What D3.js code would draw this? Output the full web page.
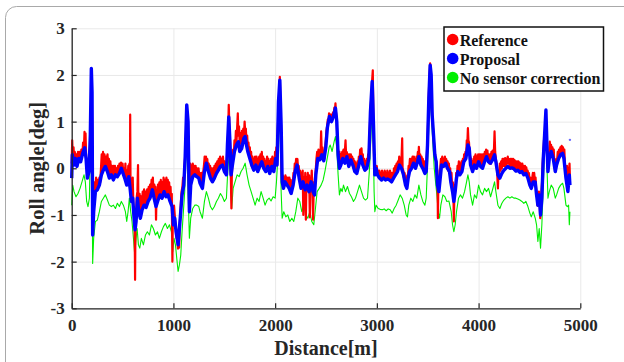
<!DOCTYPE html>
<html>
<head>
<meta charset="utf-8">
<script src="https://cdn.jsdelivr.net/npm/d3@7"></script>
<style>
  body { margin: 0; background: #fff; }
  svg { display: block; }
</style>
</head>
<body>
<div id="chart"></div>
<script>
// axis ticks
const xTicks = [0, 1000, 2000, 3000, 4000, 5000];
const yTicks = [-3, -2, -1, 0, 1, 2, 3];
const seriesNames = ['Reference', 'Proposal', 'No sensor correction'];

// [distance m, roll deg]
const proposal = [
  [0,-0.21],[6,0.29],[23,0.07],[36,0.21],[52,0.04],[69,0.21],[88,0.14],[108,0.32],[128,0.44],[141,0.21],
  [154,-0.21],[170,-0.07],[183,0.71],[193,2.14],[200,1.64],[206,-1.43],[216,-0.93],[233,-0.5],[252,-0.46],[272,-0.36],
  [292,-0.14],[311,-0.04],[331,0.04],[351,-0.07],[370,-0.21],[390,-0.14],[410,-0.25],[430,-0.14],[449,-0.18],[469,-0.11],
  [488,0],[505,-0.11],[521,-0.21],[541,-0.36],[561,-0.18],[574,-0.43],[587,-0.71],[600,-0.64],[613,-1.07],[623,-1.32],
  [633,-1.14],[646,-0.64],[659,-0.93],[675,-1.07],[692,-0.89],[711,-0.79],[731,-0.84],[751,-0.71],[770,-0.64],[793,-0.46],
  [810,-0.64],[829,-0.82],[849,-0.68],[869,-0.57],[888,-0.64],[908,-0.5],[928,-0.61],[947,-0.57],[967,-0.71],[987,-0.82],
  [1000,-1.21],[1013,-1.07],[1026,-1.36],[1046,-1.64],[1059,-1.29],[1072,-0.93],[1085,-0.57],[1102,-0.36],[1115,0.21],[1131,1.36],
  [1144,1.0],[1157,-0.93],[1170,-0.36],[1190,-0.18],[1210,-0.14],[1229,-0.18],[1249,-0.21],[1262,-0.32],[1285,-0.43],[1305,-0.07],
  [1324,0.11],[1344,-0.07],[1364,-0.21],[1383,-0.29],[1403,-0.21],[1423,-0.11],[1442,-0.04],[1462,0.04],[1482,0.07],[1501,-0.07],
  [1521,-0.14],[1531,0.5],[1544,1.1],[1554,0.64],[1567,-0.14],[1580,0.07],[1600,0.36],[1619,0.5],[1639,0.57],[1652,0.36],
  [1672,0.43],[1692,0.64],[1705,0.68],[1718,0.5],[1731,0.36],[1751,0.21],[1770,0.07],[1790,-0.04],[1810,0.07],[1829,-0.07],
  [1849,0.04],[1869,0.14],[1888,0],[1908,-0.07],[1928,0.04],[1947,-0.11],[1967,0.04],[1987,-0.07],[2006,0.21],[2019,0.07],
  [2033,1.43],[2046,1.89],[2059,0.93],[2069,-0.29],[2082,-0.43],[2098,-0.29],[2118,-0.36],[2138,-0.43],[2157,-0.54],[2177,-0.36],
  [2197,-0.07],[2216,0.07],[2236,-0.21],[2255,-0.43],[2275,-0.29],[2295,-0.46],[2314,-0.36],[2334,-0.5],[2354,-0.29],[2373,-0.5],
  [2387,-0.57],[2400,-0.14],[2419,0.21],[2439,0.18],[2459,0.29],[2478,0.16],[2498,0.45],[2514,0.88],[2534,1.11],[2554,1.0],
  [2573,1.11],[2593,1.29],[2606,1.0],[2619,0.29],[2632,0],[2646,0.07],[2665,0.21],[2685,0.11],[2705,0.25],[2724,0.04],
  [2744,0.18],[2764,0.07],[2783,-0.07],[2803,-0.11],[2823,0.07],[2842,0.25],[2862,0.07],[2882,-0.04],[2901,0],[2921,0.21],
  [2937,1.21],[2954,1.86],[2967,0.93],[2980,-0.14],[2993,0],[3006,-0.14],[3026,-0.21],[3046,-0.25],[3065,-0.21],[3085,-0.25],
  [3105,-0.23],[3124,-0.25],[3144,-0.29],[3164,-0.21],[3183,-0.14],[3203,-0.07],[3223,0.07],[3242,0],[3262,-0.14],[3282,-0.36],
  [3295,-0.43],[3308,-0.21],[3321,-0.07],[3341,0],[3360,0.11],[3380,0],[3400,0.14],[3413,0.25],[3433,0.07],[3452,0],
  [3472,-0.11],[3485,-0.07],[3498,0.5],[3511,1.5],[3524,2.21],[3534,2.0],[3544,1.14],[3557,0.71],[3570,0.29],[3583,0.14],
  [3596,-0.36],[3610,-0.5],[3623,-0.21],[3636,0.07],[3655,0.04],[3675,0.11],[3695,0],[3714,-0.07],[3727,-0.29],[3744,-0.5],
  [3757,-0.71],[3770,-0.5],[3783,-0.21],[3796,-0.07],[3816,-0.14],[3836,-0.07],[3855,0.14],[3875,0.21],[3895,0.5],[3908,0.43],
  [3921,0.07],[3941,-0.07],[3960,0.07],[3980,0],[4000,0.14],[4019,0.04],[4039,0],[4059,0.14],[4078,0.25],[4098,0.14],
  [4118,0.11],[4137,0.18],[4157,0.29],[4170,0.14],[4190,-0.14],[4209,-0.21],[4229,-0.11],[4249,-0.04],[4268,0],[4288,0.04],
  [4308,0],[4327,0.01],[4347,-0.01],[4367,-0.06],[4386,-0.04],[4406,-0.09],[4426,-0.07],[4445,-0.14],[4465,-0.11],[4485,-0.21],
  [4504,-0.36],[4518,-0.43],[4537,-0.29],[4557,-0.29],[4570,-0.57],[4583,-0.79],[4596,-0.57],[4609,-1.0],[4622,-0.64],[4636,0.21],
  [4649,0.71],[4662,1.25],[4672,0.5],[4682,-0.07],[4695,0.21],[4714,0.36],[4734,0.21],[4754,-0.07],[4767,0.07],[4787,0.21],
  [4806,0.29],[4826,0.32],[4839,0.21],[4859,-0.21],[4878,-0.5],[4892,-0.14],[4898,-0.36]
];
const proposalStray = [[4898, 0.61]];

const reference = [
  [0,0.1],[5,0.6],[12,0.15],[18,0.45],[25,0.1],[30,0.35],[40,0.2],[46,0.3],[55,0.1],[62,0.35],[70,0.2],[78,0.35],[88,0.2],[95,0.4],
  [105,0.3],[112,0.55],[120,0.4],[126,0.78],[132,0.45],[136,0.75],[142,0.25],[148,0.1],[155,-0.15],[162,0.1],[170,0],[177,0.3],[183,0.6],
  [190,1.2],[197,1.54],[203,0.5],[207,-1.4],[212,-0.9],[218,-0.6],[225,-0.3],[233,-0.45],[240,-0.2],[248,-0.4],[256,-0.25],[264,-0.4],
  [272,-0.2],[280,-0.3],[288,0.0],[295,0.3],[302,-0.05],[308,0.35],[316,0.0],[322,0.3],[330,0.05],[338,0.25],[345,-0.05],[352,0.3],
  [360,-0.1],[366,0.2],[374,-0.15],[380,0.15],[388,-0.1],[395,0.05],[402,-0.2],[410,0.05],[418,-0.15],[425,0.05],[432,-0.1],[440,0.0],
  [448,-0.15],[455,0.05],[462,-0.1],[470,0.1],[478,-0.05],[485,0.12],[492,0.0],[500,0.1],[508,-0.1],[515,0.0],[522,-0.2],[528,0.1],
  [535,-0.3],[542,-0.05],[550,-0.25],[556,0.05],[562,-0.15],[568,0.1],[573,-0.3],[575,1.15],[578,-0.2],[582,-0.6],[588,-0.3],[594,-0.65],
  [600,-0.2],[606,-0.8],[613,-1.0],[618,-0.9],[623,-2.39],[627,-1.1],[633,-1.0],[640,-0.6],[646,-0.5],[652,0.07],[656,-0.8],[662,-0.9],
  [668,-0.55],[675,-1.0],[682,-0.6],[690,-0.85],[698,-0.5],[705,-0.75],[712,-0.45],[720,-0.8],[727,-0.5],[735,-0.8],[742,-0.45],[750,-0.7],
  [757,-0.4],[764,-0.6],[771,-0.35],[778,-0.55],[785,-0.25],[792,-0.45],[798,-0.2],[805,-0.6],[812,-0.35],[818,-0.7],[824,-0.4],[829,-1.1],
  [835,-0.5],[842,-0.7],[848,-0.35],[855,-0.65],[862,-0.3],[869,-0.55],[876,-0.25],[883,-0.6],[890,-0.3],[897,-0.55],[903,-0.2],[910,-0.5],
  [917,-0.25],[924,-0.55],[931,-0.2],[938,-0.55],[945,-0.25],[952,-0.55],[958,-0.3],[965,-0.65],[972,-0.4],[978,-0.75],[984,-0.55],[990,-2.0],
  [994,-1.0],[1000,-1.1],[1006,-0.8],[1013,-1.0],[1019,-1.2],[1026,-1.3],[1032,-1.5],[1038,-1.4],[1044,-1.72],[1050,-1.5],[1056,-1.7],[1062,-1.2],
  [1068,-1.0],[1074,-0.7],[1080,-0.5],[1088,-0.4],[1095,-0.2],[1102,-0.3],[1108,0.0],[1115,0.25],[1124,0.8],[1131,1.1],[1137,1.18],[1142,1.0],
  [1148,0.3],[1155,-0.85],[1160,-0.5],[1165,0.1],[1170,-0.3],[1177,0.05],[1184,-0.15],[1190,0.1],[1197,-0.1],[1204,0.05],[1211,-0.1],[1218,0.05],
  [1225,-0.12],[1232,0.0],[1240,-0.15],[1247,0.0],[1254,-0.2],[1262,-0.1],[1270,-0.3],[1277,-0.1],[1285,-0.4],[1292,-0.1],[1300,0.05],[1307,0.25],
  [1314,0.05],[1320,0.25],[1326,0.1],[1333,0.2],[1340,-0.05],[1347,0.1],[1354,-0.15],[1361,0.05],[1368,-0.2],[1375,0.0],[1382,-0.25],[1389,0.0],
  [1396,-0.2],[1403,0.05],[1410,-0.15],[1417,0.1],[1424,-0.05],[1431,0.15],[1438,0.0],[1445,0.2],[1452,0.0],[1459,0.25],[1466,0.05],[1473,0.2],
  [1480,0.1],[1487,0.25],[1494,0.0],[1501,0.15],[1508,-0.05],[1515,0.1],[1522,-0.1],[1530,0.5],[1537,0.7],[1544,1.36],[1550,0.9],[1556,0.6],
  [1562,0.2],[1567,-0.5],[1570,-0.86],[1574,-0.2],[1580,0.2],[1587,0.4],[1594,0.3],[1600,0.6],[1607,0.45],[1614,0.8],[1620,0.55],[1627,0.9],
  [1633,1.18],[1638,0.7],[1645,0.9],[1652,0.5],[1659,0.75],[1666,0.55],[1673,0.8],[1680,0.6],[1687,0.85],[1693,0.7],[1700,1.0],[1706,0.75],
  [1712,0.85],[1718,0.55],[1725,0.7],[1731,0.45],[1738,0.55],[1745,0.3],[1751,0.45],[1758,0.15],[1764,0.35],[1770,0.05],[1777,0.25],[1784,0.0],
  [1790,0.2],[1797,0.0],[1803,0.25],[1810,0.05],[1817,0.25],[1823,-0.05],[1830,0.2],[1836,0.0],[1843,0.25],[1850,0.05],[1856,0.3],[1863,0.1],
  [1869,0.35],[1876,0.05],[1882,0.25],[1889,0.0],[1895,0.2],[1902,-0.05],[1908,0.15],[1915,0.0],[1921,0.25],[1928,0.05],[1934,0.2],[1941,-0.05],
  [1947,0.15],[1954,-0.05],[1960,0.2],[1967,0.05],[1973,0.25],[1980,0.0],[1986,0.2],[1993,0.0],[1999,0.35],[2006,0.25],[2012,0.45],[2019,0.1],
  [2026,0.8],[2033,1.3],[2040,1.6],[2046,1.96],[2052,1.3],[2058,0.8],[2063,0.0],[2069,-0.3],[2075,-0.15],[2082,-0.4],[2088,-0.2],[2095,-0.3],
  [2101,-0.15],[2108,-0.3],[2114,-0.2],[2121,-0.3],[2127,-0.2],[2134,-0.35],[2140,-0.2],[2147,-0.45],[2153,-0.25],[2160,-0.5],[2166,-0.3],[2173,-0.35],
  [2180,-0.1],[2186,-0.2],[2193,0.1],[2199,0.0],[2206,0.2],[2212,0.1],[2219,0.2],[2225,0.0],[2232,0.05],[2238,-0.2],[2245,-0.05],[2251,-0.4],
  [2258,-0.1],[2264,-0.35],[2271,-0.05],[2277,-1.0],[2283,-0.2],[2290,-0.45],[2296,-0.1],[2302,-1.1],[2308,-0.2],[2315,-0.4],[2321,-0.1],[2328,-0.5],
  [2334,-0.15],[2341,-1.05],[2347,-0.2],[2354,-0.3],[2360,-0.05],[2367,-0.5],[2373,-1.1],[2380,-0.3],[2386,-0.55],[2392,-0.2],[2400,0.0],[2406,0.2],
  [2413,0.35],[2419,0.25],[2426,0.4],[2433,0.2],[2439,0.35],[2446,0.3],[2452,0.79],[2458,0.35],[2465,0.45],[2472,0.25],[2478,0.35],[2485,0.2],
  [2491,0.45],[2498,0.6],[2504,0.8],[2511,0.9],[2518,1.05],[2524,1.0],[2530,1.18],[2537,1.1],[2543,1.15],[2550,1.0],[2556,1.15],[2563,1.05],
  [2569,1.2],[2576,1.15],[2582,1.3],[2588,1.25],[2593,1.39],[2598,1.2],[2603,1.1],[2609,0.8],[2615,0.5],[2621,0.3],[2627,0.15],[2633,0.35],
  [2640,0.1],[2646,0.3],[2652,0.15],[2659,0.35],[2665,0.25],[2672,0.4],[2678,0.2],[2685,0.35],[2692,0.6],[2698,0.25],[2705,0.35],[2711,0.15],
  [2718,0.3],[2724,0.1],[2731,0.3],[2737,0.15],[2744,0.3],[2750,0.1],[2757,0.25],[2764,0.05],[2770,0.2],[2777,0.0],[2783,0.15],[2790,-0.05],
  [2796,0.1],[2803,-0.05],[2810,0.15],[2816,0.05],[2823,0.25],[2829,0.15],[2836,0.4],[2842,0.3],[2849,0.43],[2855,0.2],[2862,0.3],[2868,0.05],
  [2875,0.2],[2882,0.0],[2888,0.15],[2895,0.0],[2901,0.2],[2908,0.1],[2914,0.3],[2921,0.3],[2928,0.7],[2935,1.1],[2942,1.4],[2948,1.6],
  [2954,1.9],[2960,2.1],[2965,1.2],[2970,0.5],[2975,0.0],[2980,-0.1],[2986,0.05],[2993,-0.05],[2999,0.05],[3006,-0.1],[3012,-0.05],[3019,-0.15],
  [3025,-0.05],[3032,-0.2],[3038,-0.1],[3045,-0.2],[3051,-0.05],[3058,-0.2],[3064,-0.1],[3071,-0.2],[3077,-0.05],[3084,-0.2],[3090,-0.1],[3097,-0.2],
  [3103,-0.05],[3110,-0.2],[3116,-0.1],[3123,-0.2],[3129,-0.05],[3136,-0.25],[3142,-0.1],[3149,-0.25],[3155,-0.1],[3162,-0.2],[3168,0.0],[3175,-0.1],
  [3181,0.05],[3188,-0.05],[3194,0.1],[3201,0.0],[3207,0.15],[3214,0.1],[3220,0.25],[3227,0.1],[3233,0.2],[3240,0.05],[3249,0.64],[3253,0.0],
  [3260,-0.05],[3266,-0.2],[3273,-0.1],[3279,-0.3],[3286,-0.2],[3292,-0.4],[3299,-0.15],[3305,-0.2],[3312,0.05],[3318,0.0],[3325,0.2],[3331,0.05],
  [3338,0.2],[3344,0.05],[3351,0.25],[3357,0.1],[3364,0.25],[3370,0.1],[3377,0.2],[3383,0.05],[3390,0.25],[3396,0.15],[3403,0.35],[3409,0.25],
  [3413,0.46],[3420,0.2],[3426,0.3],[3433,0.1],[3439,0.25],[3446,0.05],[3452,0.2],[3459,0.0],[3465,0.15],[3472,-0.05],[3478,0.1],[3485,0.0],
  [3492,0.3],[3498,0.6],[3505,1.1],[3511,1.6],[3518,2.0],[3524,2.25],[3530,2.1],[3536,1.5],[3542,1.2],[3548,1.0],[3554,0.8],[3560,0.6],
  [3566,0.4],[3572,0.3],[3578,0.2],[3585,0.15],[3591,-0.2],[3597,-0.3],[3600,-1.07],[3604,-0.4],[3610,-0.3],[3617,-0.05],[3623,0.0],[3630,0.2],
  [3636,0.1],[3643,0.25],[3649,0.1],[3656,0.2],[3662,0.05],[3669,0.25],[3675,0.1],[3682,0.2],[3688,0.0],[3695,0.15],[3701,-0.05],[3708,0.1],
  [3714,-0.1],[3721,0.0],[3727,-0.25],[3734,-0.1],[3740,-0.45],[3747,-0.3],[3753,-0.6],[3757,-1.14],[3762,-0.5],[3768,-0.35],[3774,-0.45],[3780,-0.1],
  [3787,-0.2],[3793,0.05],[3800,-0.05],[3806,0.15],[3813,-0.05],[3819,0.1],[3826,-0.05],[3832,0.15],[3839,0.0],[3845,0.2],[3852,0.1],[3858,0.3],
  [3865,0.2],[3871,0.35],[3878,0.3],[3884,0.6],[3890,0.55],[3895,0.86],[3900,0.6],[3906,0.55],[3912,0.3],[3918,0.25],[3925,0.05],[3931,0.2],
  [3938,-0.05],[3944,0.15],[3951,0.0],[3957,0.25],[3964,0.1],[3970,0.3],[3977,0.05],[3983,0.25],[3990,0.1],[3996,0.3],[4003,0.15],[4009,0.3],
  [4016,0.1],[4022,0.3],[4029,0.05],[4035,0.3],[4042,0.05],[4048,0.3],[4055,0.15],[4061,0.35],[4068,0.25],[4074,0.4],[4081,0.3],[4087,0.38],
  [4094,0.15],[4100,0.3],[4107,0.1],[4113,0.3],[4120,0.1],[4126,0.35],[4133,0.2],[4139,0.38],[4146,0.25],[4152,0.45],[4157,0.79],[4163,0.35],
  [4170,0.2],[4177,0.1],[4183,-0.1],[4190,-0.43],[4196,-0.05],[4203,-0.1],[4209,0.1],[4216,-0.05],[4222,0.15],[4229,0.0],[4235,0.2],[4242,0.05],
  [4248,0.2],[4255,0.05],[4261,0.22],[4268,0.05],[4274,0.2],[4281,0.1],[4287,0.25],[4294,0.1],[4300,0.2],[4307,0.05],[4313,0.2],[4320,0.05],
  [4326,0.2],[4333,0.05],[4339,0.2],[4346,0.05],[4352,0.18],[4359,0.0],[4365,0.15],[4372,0.0],[4378,0.15],[4385,0.0],[4391,0.15],[4398,-0.05],
  [4404,0.12],[4411,-0.05],[4417,0.1],[4424,-0.05],[4430,0.1],[4437,-0.05],[4443,0.05],[4450,-0.1],[4456,0.05],[4463,-0.1],[4469,0.02],[4476,-0.1],
  [4482,-0.05],[4489,-0.2],[4495,-0.1],[4502,-0.3],[4508,-0.2],[4515,-0.4],[4521,-0.3],[4528,-0.2],[4534,-0.1],[4541,-0.25],[4547,-0.1],[4554,-0.3],
  [4560,-0.2],[4567,-0.5],[4573,-0.55],[4580,-0.8],[4586,-0.6],[4593,-0.5],[4600,-0.7],[4606,-1.07],[4612,-0.8],[4618,-0.5],[4624,-0.3],[4630,0.1],
  [4636,0.3],[4643,0.6],[4649,0.65],[4656,0.9],[4662,1.1],[4668,0.6],[4674,0.3],[4680,0.0],[4687,0.3],[4693,0.3],[4700,0.57],[4706,0.35],
  [4713,0.5],[4719,0.3],[4726,0.45],[4732,0.25],[4739,0.4],[4745,0.1],[4752,0.15],[4758,-0.05],[4765,0.2],[4771,0.15],[4778,0.35],[4784,0.25],
  [4791,0.4],[4797,0.3],[4804,0.45],[4810,0.35],[4817,0.48],[4823,0.35],[4830,0.45],[4836,0.3],[4843,0.4],[4849,0.05],[4856,-0.1],[4862,-0.25],
  [4869,0.05],[4875,-0.4],[4881,0.0],[4888,-0.1],[4894,0.1],[4898,-0.2]
];

const noCorrection = [
  [0,-0.79],[10,-0.36],[23,-0.5],[42,-0.61],[62,-0.54],[82,-0.43],[101,-0.29],[121,-0.14],[134,-0.29],[147,-0.71],
  [160,-0.82],[174,-0.64],[187,0.93],[193,1.57],[200,0.07],[206,-2.04],[216,-1.5],[233,-1.14],[252,-1.11],[272,-0.93],
  [292,-0.71],[311,-0.64],[331,-0.57],[351,-0.68],[370,-0.79],[390,-0.82],[410,-0.79],[430,-0.86],[449,-0.75],[469,-0.82],
  [488,-0.71],[508,-0.79],[528,-0.93],[541,-1.14],[554,-0.93],[567,-0.64],[580,-0.93],[593,-1.14],[607,-1.5],[620,-1.86],
  [630,-1.57],[643,-1.29],[656,-1.64],[669,-1.71],[685,-1.5],[705,-1.64],[725,-1.43],[744,-1.36],[764,-1.43],[784,-1.21],
  [803,-1.29],[823,-1.43],[843,-1.36],[862,-1.5],[882,-1.36],[902,-1.25],[921,-1.18],[941,-1.29],[961,-1.21],[980,-1.36],
  [993,-1.79],[1006,-1.5],[1020,-1.64],[1033,-1.93],[1046,-2.21],[1059,-2.07],[1072,-1.86],[1085,-1.36],[1098,-0.93],[1111,-0.5],
  [1125,0.71],[1134,0.21],[1144,-0.5],[1157,-1.5],[1170,-1.07],[1190,-0.86],[1210,-0.79],[1229,-0.79],[1249,-0.82],[1262,-0.93],
  [1285,-1.07],[1305,-0.71],[1324,-0.5],[1344,-0.64],[1364,-0.82],[1383,-0.89],[1403,-0.82],[1423,-0.71],[1442,-0.64],[1462,-0.54],
  [1482,-0.61],[1501,-0.71],[1521,-0.64],[1534,-0.07],[1547,0.29],[1560,-0.14],[1573,-0.86],[1587,-0.43],[1606,-0.29],[1626,-0.14],
  [1646,-0.18],[1665,-0.07],[1685,0],[1705,0.11],[1724,-0.14],[1744,-0.36],[1764,-0.5],[1783,-0.64],[1803,-0.79],[1823,-0.64],
  [1842,-0.71],[1862,-0.5],[1882,-0.64],[1901,-0.79],[1921,-0.68],[1941,-0.64],[1960,-0.7],[1980,-0.61],[2000,-0.64],[2013,-0.29],
  [2026,0.21],[2039,1.21],[2049,0.71],[2059,-0.5],[2069,-1.07],[2085,-0.93],[2105,-1.04],[2124,-1.0],[2144,-1.14],[2164,-1.07],
  [2183,-1.14],[2203,-0.93],[2223,-0.64],[2242,-0.71],[2262,-0.93],[2282,-0.79],[2301,-1.0],[2321,-1.07],[2341,-0.93],[2360,-1.14],
  [2380,-1.21],[2393,-0.93],[2413,-0.5],[2433,-0.43],[2452,-0.36],[2472,-0.25],[2491,-0.05],[2511,0.2],[2531,0.45],[2541,0.5],
  [2560,0.36],[2580,0.57],[2593,0.68],[2606,0.43],[2619,-0.14],[2632,-0.57],[2646,-0.43],[2659,-0.5],[2672,-0.36],[2692,-0.5],
  [2711,-0.39],[2731,-0.54],[2750,-0.61],[2770,-0.71],[2790,-0.64],[2810,-0.5],[2829,-0.36],[2849,-0.5],[2869,-0.64],[2888,-0.68],
  [2908,-0.64],[2928,0],[2941,0.64],[2954,1.36],[2964,0.71],[2973,-0.5],[2980,-0.93],[2993,-0.79],[3013,-0.86],[3032,-0.88],
  [3052,-0.89],[3072,-0.87],[3092,-0.91],[3111,-0.87],[3131,-0.89],[3151,-0.96],[3170,-0.86],[3190,-0.79],[3210,-0.68],[3229,-0.57],
  [3249,-0.64],[3269,-0.79],[3288,-1.0],[3301,-1.04],[3314,-0.79],[3334,-0.64],[3354,-0.71],[3374,-0.57],[3393,-0.64],[3413,-0.36],
  [3433,-0.57],[3452,-0.71],[3472,-0.79],[3485,-0.64],[3498,0.07],[3511,0.93],[3524,1.57],[3537,1.07],[3550,0.57],[3564,0],
  [3577,-0.29],[3590,-0.57],[3603,-0.93],[3616,-1.07],[3629,-0.79],[3649,-0.57],[3669,-0.61],[3688,-0.71],[3708,-0.7],[3731,-0.93],
  [3744,-1.21],[3757,-1.36],[3770,-1.21],[3783,-0.93],[3803,-0.64],[3822,-0.57],[3842,-0.64],[3862,-0.5],[3882,-0.29],[3895,-0.14],
  [3908,-0.29],[3921,-0.57],[3941,-0.79],[3960,-0.57],[3980,-0.64],[4000,-0.36],[4019,-0.5],[4039,-0.57],[4059,-0.43],[4078,-0.5],
  [4098,-0.43],[4118,-0.61],[4137,-0.46],[4157,-0.29],[4170,-0.5],[4190,-0.79],[4209,-0.86],[4229,-0.75],[4249,-0.68],[4268,-0.64],
  [4288,-0.61],[4308,-0.64],[4327,-0.61],[4347,-0.64],[4367,-0.64],[4386,-0.66],[4406,-0.68],[4426,-0.71],[4445,-0.75],[4465,-0.71],
  [4485,-0.82],[4504,-0.96],[4518,-1.04],[4537,-0.93],[4557,-1.07],[4570,-1.21],[4583,-1.57],[4596,-1.29],[4609,-1.71],[4622,-1.21],
  [4636,-0.36],[4649,0.36],[4662,0.64],[4672,0.07],[4682,-0.64],[4695,-0.5],[4714,-0.36],[4734,-0.43],[4754,-0.64],[4767,-0.57],
  [4787,-0.43],[4806,-0.36],[4826,-0.32],[4839,-0.43],[4859,-0.79],[4872,-0.82],[4885,-0.79],[4892,-1.21],[4898,-0.93]
];

const colors = ['#ff0000', '#0000ff', '#00ee00'];
const font = '"Liberation Serif", "Times New Roman", serif';

const W = 624, H = 362;
const svg = d3.select('#chart').append('svg')
  .attr('width', W)
  .attr('height', H)
  .style('font-family', font)
  .style('font-weight', 'bold');

// outer rounded frame (runs off the right and bottom edge)
svg.append('rect')
  .attr('x', 5.5).attr('y', 6.5)
  .attr('width', 700).attr('height', 500)
  .attr('rx', 11)
  .attr('fill', 'none')
  .attr('stroke', '#a9a9a9')
  .attr('stroke-width', 1);

const x = d3.scaleLinear().domain([0, 5000]).range([71.7, 580.3]);
const y = d3.scaleLinear().domain([-3, 3]).range([308.3, 28.3]);

// grid
svg.append('g')
  .attr('transform', `translate(0,${y(-3)})`)
  .call(d3.axisBottom(x).tickValues(xTicks).tickSize(-(y(-3) - y(3))).tickFormat(''))
  .call(g => g.select('.domain').remove())
  .selectAll('line').attr('stroke', '#e9e9e9');
svg.append('g')
  .attr('transform', `translate(${x(0)},0)`)
  .call(d3.axisLeft(y).tickValues(yTicks).tickSize(-(x(5000) - x(0))).tickFormat(''))
  .call(g => g.select('.domain').remove())
  .selectAll('line').attr('stroke', '#e9e9e9');

const plot = svg.append('g');
const line = d3.line().x(d => x(d[0])).y(d => y(d[1]));

plot.append('path')
  .datum(noCorrection)
  .attr('d', line)
  .attr('fill', 'none')
  .attr('stroke', colors[2])
  .attr('stroke-width', 1.1)
  .attr('stroke-linejoin', 'round');

plot.append('path')
  .datum(reference)
  .attr('d', line)
  .attr('fill', 'none')
  .attr('stroke', colors[0])
  .attr('stroke-width', 2.2)
  .attr('stroke-linejoin', 'round');

plot.append('path')
  .datum(proposal)
  .attr('d', line)
  .attr('fill', 'none')
  .attr('stroke', colors[1])
  .attr('stroke-width', 3.4)
  .attr('stroke-linejoin', 'round');

plot.selectAll('.stray')
  .data(proposalStray)
  .enter().append('circle')
  .attr('cx', d => x(d[0]))
  .attr('cy', d => y(d[1]))
  .attr('r', 1.2)
  .attr('fill', '#6a6aff');

// axes
const xAxis = svg.append('g')
  .attr('transform', `translate(0,${y(-3)})`)
  .call(d3.axisBottom(x).tickValues(xTicks).tickSize(-5).tickSizeOuter(0).tickPadding(11).tickFormat(d3.format('d')));
const yAxis = svg.append('g')
  .attr('transform', `translate(${x(0)},0)`)
  .call(d3.axisLeft(y).tickValues(yTicks).tickSize(-5).tickSizeOuter(0).tickPadding(7).tickFormat(d => String(d)));

[xAxis, yAxis].forEach(g => {
  g.select('.domain').attr('stroke', '#262626').attr('stroke-width', 1.3);
  g.selectAll('.tick line').attr('stroke', '#262626').attr('stroke-width', 1.2);
  g.selectAll('text')
    .attr('fill', '#262626')
    .style('font-family', font)
    .style('font-weight', 'bold')
    .style('font-size', '17px');
});

svg.append('text')
  .attr('x', (x(0) + x(5000)) / 2)
  .attr('y', 355)
  .attr('text-anchor', 'middle')
  .attr('fill', '#262626')
  .style('font-size', '20px')
  .text('Distance[m]');

svg.append('text')
  .attr('transform', `translate(44,${(y(3) + y(-3)) / 2}) rotate(-90)`)
  .attr('text-anchor', 'middle')
  .attr('fill', '#262626')
  .style('font-size', '20.5px')
  .text('Roll angle[deg]');

// legend
const legend = svg.append('g');
legend.append('rect')
  .attr('x', 444).attr('y', 27)
  .attr('width', 159.5).attr('height', 64)
  .attr('fill', '#fff')
  .attr('stroke', '#111')
  .attr('stroke-width', 1.5);

const rows = legend.selectAll('.row')
  .data(seriesNames)
  .enter().append('g')
  .attr('transform', (d, i) => `translate(452.7,${39.5 + i * 19})`);
rows.append('circle')
  .attr('r', 5.8)
  .attr('fill', (d, i) => colors[i]);
rows.append('text')
  .attr('x', 7)
  .attr('y', 6)
  .attr('fill', '#111')
  .style('font-size', '16px')
  .text(d => d);
</script>
</body>
</html>
